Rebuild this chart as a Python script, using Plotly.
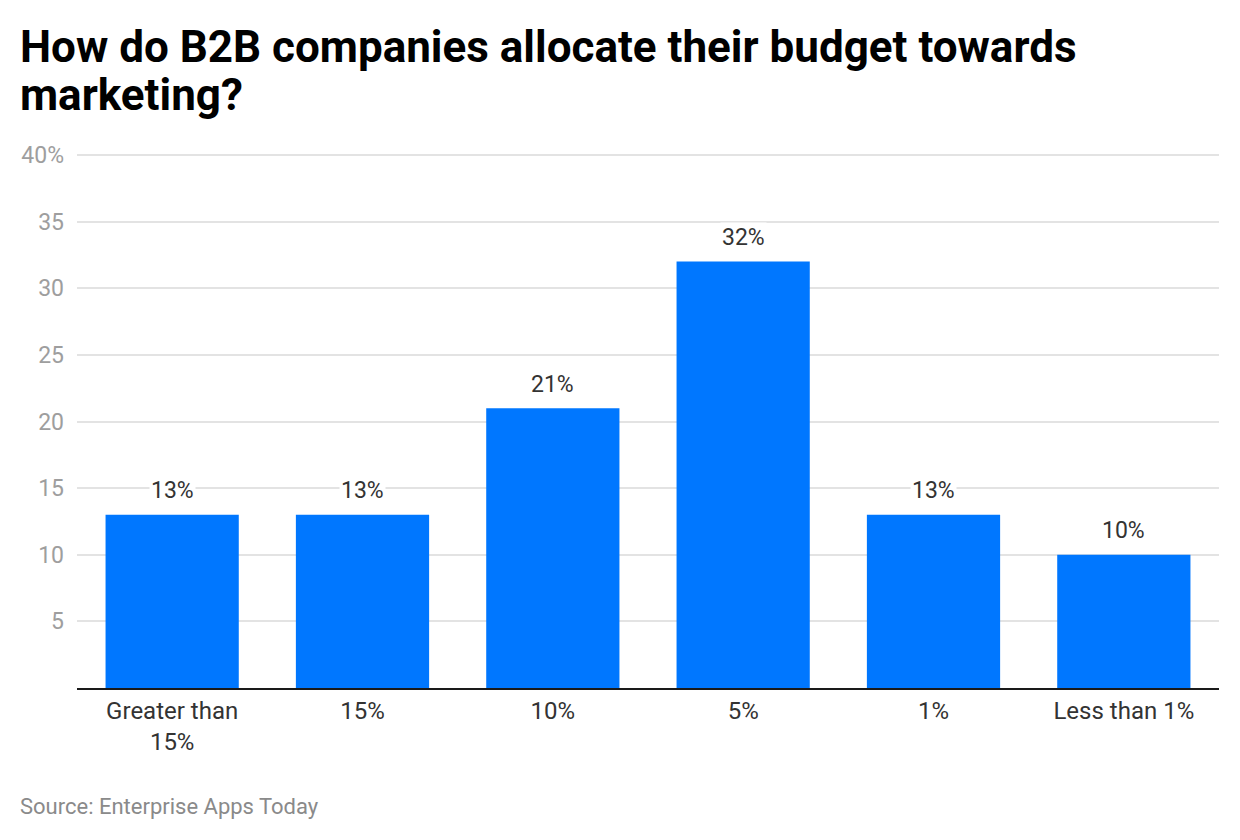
import plotly.graph_objects as go

categories = ["Greater than<br>15%", "15%", "10%", "5%", "1%", "Less than 1%"]
values = [13, 13, 21, 32, 13, 10]
label_texts = ["13%", "13%", "21%", "32%", "13%", "10%"]
y_tickvals = [5, 10, 15, 20, 25, 30, 35, 40]
y_ticktext = ["5", "10", "15", "20", "25", "30", "35", "40%"]
title_lines = ["How do B2B companies allocate their budget towards", "marketing?"]
source_text = "Source: Enterprise Apps Today"

# page body has an 8px margin; figure is laid out in its own coordinates
W, H = 1224, 824
L, R, T, B = 69, 13, 145, 144
PW, PH = W - L - R, H - T - B


def px_x(x):
    return (x - 8 - L) / PW


def px_y(y):
    return (H - B - (y - 8)) / PH


fig = go.Figure()
fig.add_trace(go.Bar(
    x=categories, y=values,
    marker=dict(color="#0077ff", line=dict(width=0)),
    hoverinfo="skip",
))

for c, v, t in zip(categories, values, label_texts):
    fig.add_annotation(
        x=c, y=v, text=t, showarrow=False,
        xref="x", yref="y", yanchor="middle", yshift=24,
        font=dict(family="Roboto", size=23, color="#333333"),
        bgcolor="white", borderpad=1,
    )

for i, line in enumerate(title_lines):
    fig.add_annotation(
        x=px_x(18), y=px_y(47 + 48 * i), xref="paper", yref="paper",
        text="<b>" + line + "</b>", showarrow=False,
        xanchor="left", yanchor="middle",
        font=dict(family="Roboto", size=44, color="#000000"),
    )

fig.add_annotation(
    x=px_x(18), y=px_y(806), xref="paper", yref="paper", text=source_text,
    showarrow=False, xanchor="left", yanchor="middle",
    font=dict(family="Roboto", size=22, color="#8a8a8a"),
)

fig.update_layout(
    width=W, height=H,
    paper_bgcolor="white", plot_bgcolor="white",
    margin=dict(l=L, r=R, t=T, b=B),
    bargap=0.3,
    showlegend=False,
    xaxis=dict(
        showline=True, linecolor="#1a1a1a", linewidth=2,
        tickfont=dict(family="Roboto", size=24, color="#333333"),
        ticks="", showgrid=False, fixedrange=True,
    ),
    yaxis=dict(
        range=[0, 40.15], tickvals=y_tickvals, ticktext=y_ticktext,
        tickfont=dict(family="Roboto", size=23, color="#9e9e9e"),
        showgrid=True, gridcolor="#e3e3e3", gridwidth=1.5,
        zeroline=False, ticks="", ticklabelstandoff=12, fixedrange=True,
    ),
)

fig.write_html("out.html")
